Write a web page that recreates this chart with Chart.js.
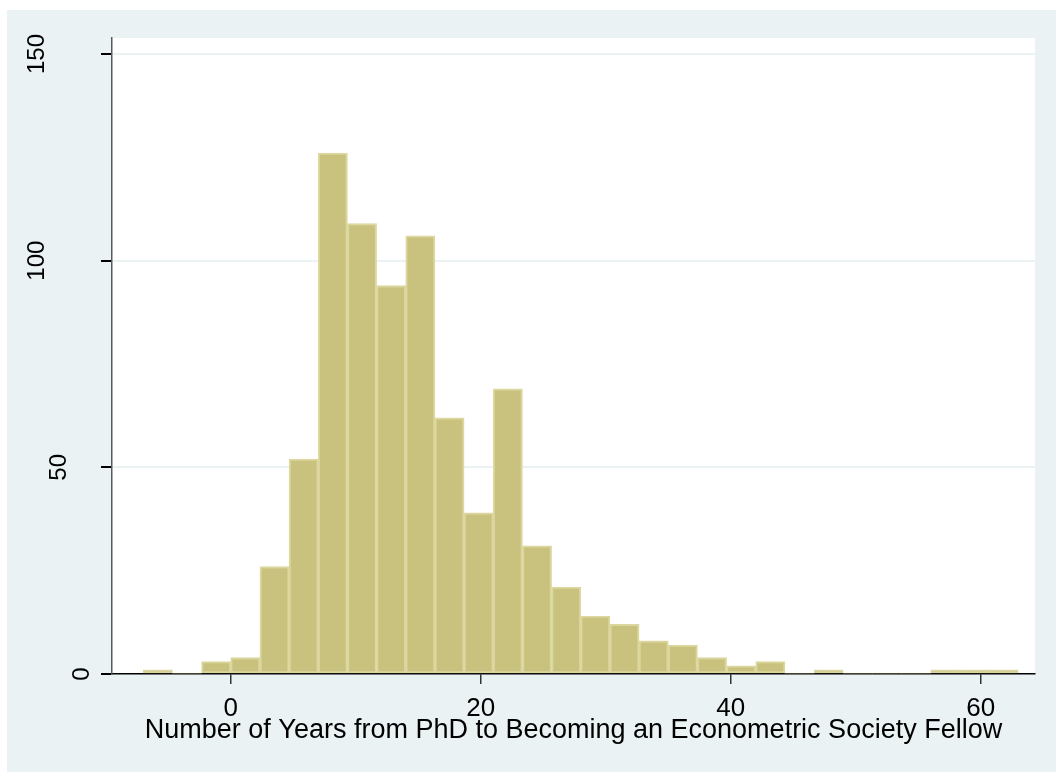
<!DOCTYPE html>
<html lang="en">
<head>
    <meta charset="UTF-8">
    <title>Years from PhD to Econometric Society Fellow</title>
    <script src="https://cdn.jsdelivr.net/npm/chart.js"></script>
    <style>
        body { margin: 0; background: #fff; }
        canvas { display: block; }
    </style>
</head>
<body>
    <canvas id="histChart" width="1056" height="772"></canvas>

    <script>
        // Histogram bins: 30 bins from -7 to 63
        const binStart = -7;
        const binWidth = 70 / 30;
        const counts = [1, 0, 3, 4, 26, 52, 126, 109, 94, 106,
                        62, 39, 69, 31, 21, 14, 12, 8, 7, 4,
                        2, 3, 0, 1, 0, 0, 0, 1, 1, 1];
        const xTicks = [0, 20, 40, 60];
        const yTicks = [0, 50, 100, 150];
        const xTitle = 'Number of Years from PhD to Becoming an Econometric Society Fellow';

        const points = counts.map((c, i) => ({ x: binStart + binWidth * (i + 0.5), y: c }));

        const bgPlugin = {
            id: 'stataBg',
            beforeDraw(chart) {
                const { ctx, chartArea } = chart;
                ctx.save();
                ctx.fillStyle = '#ffffff';
                ctx.fillRect(0, 0, chart.width, chart.height);
                ctx.fillStyle = '#eaf2f3';
                ctx.fillRect(7, 10, chart.width - 7, chart.height - 10);
                ctx.fillStyle = '#ffffff';
                ctx.fillRect(chartArea.left, chartArea.top, chartArea.right - chartArea.left, chartArea.bottom - chartArea.top);
                ctx.restore();
            }
        };

        // y labels are rotated, draw them by hand
        const yLabelPlugin = {
            id: 'yLabels',
            afterDraw(chart) {
                const { ctx } = chart;
                const y = chart.scales.y;
                ctx.save();
                ctx.font = '24px "Liberation Sans", Arial, sans-serif';
                ctx.fillStyle = '#000';
                ctx.textAlign = 'center';
                ctx.textBaseline = 'alphabetic';
                yTicks.forEach(v => {
                    const label = String(v);
                    const cx = 102.5 - 22.5 * label.length;
                    ctx.save();
                    ctx.translate(cx + 8.6, y.getPixelForValue(v));
                    ctx.rotate(-Math.PI / 2);
                    ctx.fillText(label, 0, 0);
                    ctx.restore();
                });
                ctx.restore();
            }
        };

        const ctx = document.getElementById('histChart').getContext('2d');
        new Chart(ctx, {
            type: 'bar',
            data: {
                datasets: [{
                    data: points,
                    backgroundColor: '#c9c27e',
                    borderColor: '#dcd69f',
                    borderWidth: c => (c.raw && c.raw.y > 0 ? 2 : 0),
                    borderSkipped: false,
                    barPercentage: 1,
                    categoryPercentage: 1
                }]
            },
            options: {
                responsive: false,
                animation: false,
                layout: { padding: { left: 0, top: 38, right: 21, bottom: 0 } },
                plugins: {
                    legend: { display: false },
                    tooltip: { enabled: false }
                },
                scales: {
                    x: {
                        type: 'linear',
                        offset: false,
                        min: -9.5,
                        max: 64.34,
                        afterBuildTicks: s => { s.ticks = xTicks.map(v => ({ value: v })); },
                        afterFit: s => { s.height = 98; },
                        ticks: {
                            color: '#000',
                            font: { family: '"Liberation Sans", Arial, sans-serif', size: 26 },
                            padding: 9,
                            maxRotation: 0
                        },
                        grid: {
                            offset: false,
                            drawOnChartArea: false,
                            drawTicks: true,
                            tickLength: 10,
                            tickColor: '#333',
                            lineWidth: 1.5
                        },
                        border: { display: true, color: '#000', width: 1.5 },
                        title: {
                            display: true,
                            text: xTitle,
                            color: '#000',
                            font: { family: '"Liberation Sans", Arial, sans-serif', size: 27 },
                            padding: { top: 0, bottom: 25 }
                        }
                    },
                    y: {
                        min: 0,
                        max: 153.87,
                        afterBuildTicks: s => { s.ticks = yTicks.map(v => ({ value: v })); },
                        afterFit: s => { s.width = 112; },
                        ticks: { display: false },
                        grid: {
                            color: c => (c.tick && c.tick.value === 0 ? 'rgba(0,0,0,0)' : '#eaf2f3'),
                            lineWidth: 2,
                            drawTicks: true,
                            tickLength: 11,
                            tickColor: '#000'
                        },
                        border: { display: true, color: '#5a5a5a', width: 1.5 }
                    }
                }
            },
            plugins: [bgPlugin, yLabelPlugin]
        });
    </script>
</body>
</html>
